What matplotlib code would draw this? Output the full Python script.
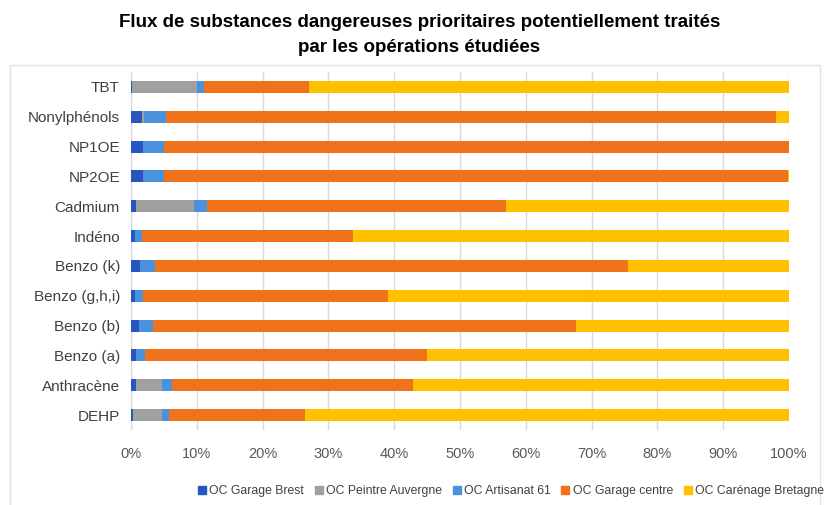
import matplotlib
matplotlib.use("Agg")
import matplotlib.pyplot as plt
import numpy as np
from matplotlib.patches import Rectangle

plt.rcParams['font.family'] = ['Liberation Sans', 'DejaVu Sans']

categories = ['TBT', 'Nonylphénols', 'NP1OE', 'NP2OE', 'Cadmium', 'Indéno',
              'Benzo (k)', 'Benzo (g,h,i)', 'Benzo (b)', 'Benzo (a)', 'Anthracène', 'DEHP']

garage_brest = [0.2, 1.6, 1.8, 1.8, 0.8, 0.6, 1.3, 0.6, 1.2, 0.8, 0.7, 0.3]
peintre_auvergne = [9.9, 0.4, 0.0, 0.0, 8.8, 0.0, 0.0, 0.0, 0.0, 0.0, 4.0, 4.4]
artisanat_61 = [1.0, 3.3, 3.2, 3.2, 2.0, 1.0, 2.4, 1.2, 2.1, 1.4, 1.5, 1.0]
garage_centre = [16.0, 92.7, 95.0, 94.9, 45.4, 32.1, 71.8, 37.3, 64.3, 42.8, 36.7, 20.7]
carenage_bretagne = [72.9, 2.0, 0.0, 0.1, 43.0, 66.3, 24.5, 60.9, 32.4, 55.0, 57.1, 73.6]

series = [
    ('OC Garage Brest', garage_brest, '#2756c0'),
    ('OC Peintre Auvergne', peintre_auvergne, '#a0a0a0'),
    ('OC Artisanat 61', artisanat_61, '#4a92dc'),
    ('OC Garage centre', garage_centre, '#f0731c'),
    ('OC Carénage Bretagne', carenage_bretagne, '#ffc000'),
]

fig = plt.figure(figsize=(8.24, 5.05), dpi=100)
ax = fig.add_axes([131 / 824, 1 - 430 / 505, 658 / 824, 358 / 505])

# cadre léger autour du graphique
fig.patches.append(Rectangle((10 / 824, -0.01), 810 / 824, 1 - 65 / 505 + 0.01,
                             transform=fig.transFigure, fill=False,
                             edgecolor='#e2e2e2', linewidth=1))

y = np.arange(len(categories))[::-1]
left = np.zeros(len(categories))
for name, vals, color in series:
    vals = np.array(vals, dtype=float)
    ax.barh(y, vals, left=left, height=0.4, color=color, label=name, zorder=3)
    left += vals

ax.set_xlim(0, 100)
ax.set_ylim(-0.5, len(categories) - 0.5)
ax.set_yticks(y)
ax.set_yticklabels(categories, fontsize=11, color='#404040')
ax.set_xticks(np.arange(0, 101, 10))
ax.set_xticklabels([f'{v}%' for v in range(0, 101, 10)], fontsize=10.5, color='#595959')
ax.tick_params(axis='both', length=0)
ax.tick_params(axis='x', pad=12)
ax.tick_params(axis='y', pad=8)
ax.grid(axis='x', color='#d9d9d9', linewidth=1, zorder=0)
for s in ax.spines.values():
    s.set_visible(False)
ax.axvline(0, color='#d9d9d9', linewidth=1, zorder=1)

fig.text(0.509, 0.955, 'Flux de substances dangereuses prioritaires potentiellement traités',
         ha='center', va='center', fontsize=13.5, fontweight='bold', color='#000000')
fig.text(0.509, 0.906, 'par les opérations étudiées',
         ha='center', va='center', fontsize=13.5, fontweight='bold', color='#000000')

handles = [plt.Line2D([], [], marker='s', linestyle='', color=c, markersize=6) for _, _, c in series]
fig.legend(handles, [n for n, _, _ in series], loc='center', bbox_to_anchor=(0.618, 0.028),
           ncol=5, frameon=False, fontsize=8.8, handletextpad=0.0, columnspacing=0.6,
           handlelength=1.2, labelcolor='#404040')

fig.savefig('out.png', dpi=100)
